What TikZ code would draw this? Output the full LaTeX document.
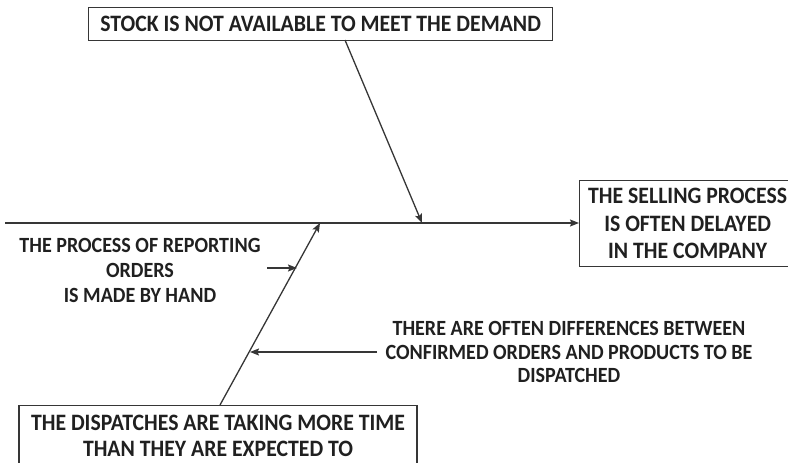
\documentclass[tikz,border=0pt]{standalone}
\usepackage{fontspec}
\setmainfont[FakeStretch=0.925]{Carlito}
\usetikzlibrary{arrows.meta}
\definecolor{ink}{RGB}{32,32,32}
\tikzset{
  big/.style={font=\bfseries\fontsize{23.5}{27.5}\selectfont, text=ink},
  lbl/.style={align=center, inner sep=0pt, text=ink},
  boxed/.style={draw=ink!90, line width=1.3pt, fill=white, align=center},
  arr/.style={-{Stealth[length=9pt,width=7pt,inset=1.5pt]}, line width=1.3pt, draw=ink!90}
}
\begin{document}
\begin{tikzpicture}[x=1pt,y=-1pt]
\useasboundingbox (0,0) rectangle (788,463);
\clip (0,0) rectangle (788,463);
% effect (head of the fish)
\node[boxed, big, minimum width=216, minimum height=86, anchor=north west] (effect) at (579,180)
  {THE SELLING PROCESS\\IS OFTEN DELAYED\\IN THE COMPANY};
% main causes
\node[boxed, big, minimum width=464, minimum height=33, anchor=north west] (stock) at (88,7)
  {STOCK IS NOT AVAILABLE TO MEET THE DEMAND};
\node[boxed, big, font=\bfseries\fontsize{23.5}{26}\selectfont, minimum width=398, inner ysep=9.5pt, text depth=14pt, anchor=north] (disp) at (218,405)
  {THE DISPATCHES ARE TAKING MORE TIME\\THAN THEY ARE EXPECTED TO};
% sub-causes
\node[lbl, font=\bfseries\fontsize{21.7}{25}\selectfont] (hand) at (140,270) {THE PROCESS OF REPORTING\\ORDERS\\IS MADE BY HAND};
\node[lbl, font=\bfseries\fontsize{21.7}{23.5}\selectfont] (diff) at (569,352) {THERE ARE OFTEN DIFFERENCES BETWEEN\\CONFIRMED ORDERS AND PRODUCTS TO BE\\DISPATCHED};
% spine
\coordinate (tail) at (5,223);
\draw[arr] (tail) -- (effect.west |- tail);
% bones
\coordinate (s1) at (422,223);
\coordinate (s2) at (320,223);
\coordinate (b1) at (345,40);
\coordinate (b2) at (220,405);
\draw[arr] (b1) -- (s1);
\draw[arr] (b2) -- (s2);
% sub-cause arrows
\coordinate (h0) at (267,268);
\coordinate (h1) at (297,268);
\coordinate (d0) at (377,352);
\coordinate (d1) at (250,352);
\draw[arr] (h0) -- (h1);
\draw[arr] (d0) -- (d1);
\end{tikzpicture}
\end{document}
